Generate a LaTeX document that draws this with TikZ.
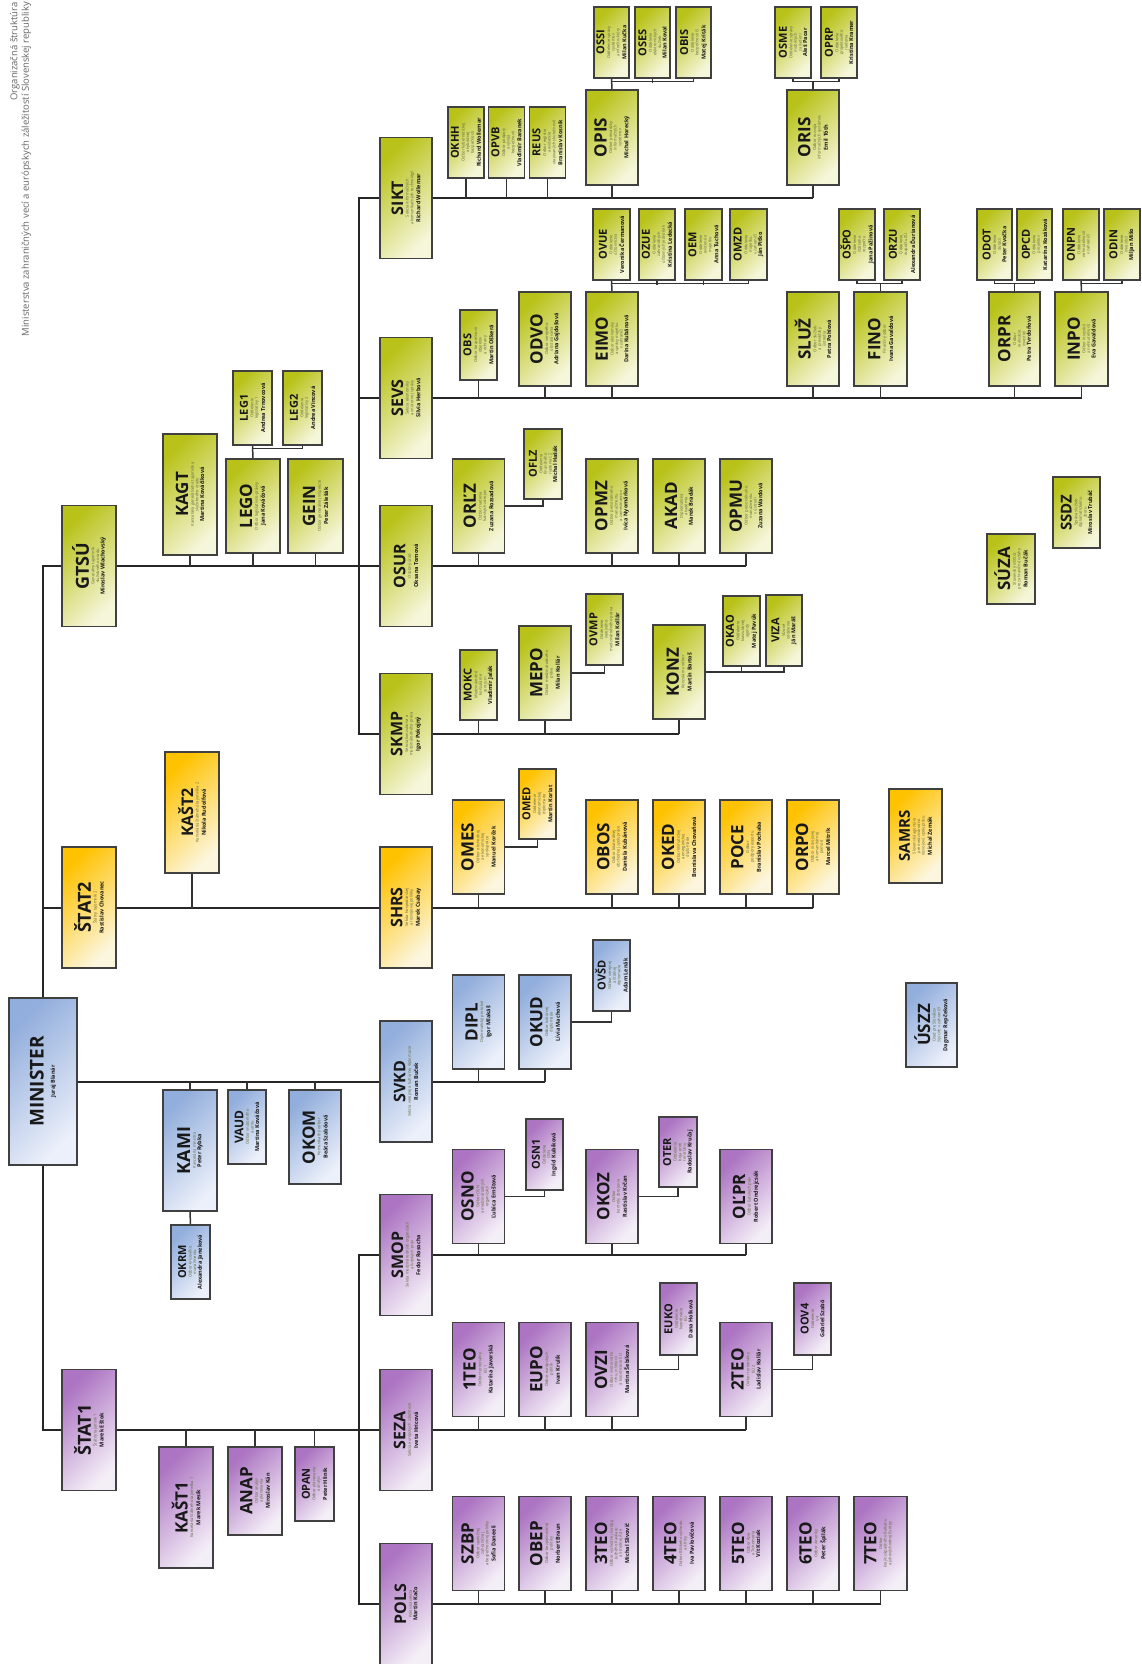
\documentclass[tikz,border=0pt]{standalone}
\usepackage{fontspec}
\setmainfont{Open Sans}
\usetikzlibrary{backgrounds,calc,positioning}

\definecolor{grnA}{RGB}{184,194,24}
\definecolor{grnB}{RGB}{246,246,218}
\definecolor{ylwA}{RGB}{255,194,0}
\definecolor{ylwB}{RGB}{252,246,222}
\definecolor{bluA}{RGB}{146,174,220}
\definecolor{bluB}{RGB}{236,240,250}
\definecolor{purA}{RGB}{172,116,194}
\definecolor{purB}{RGB}{244,238,247}
\definecolor{dsc}{RGB}{96,104,60}

\newcommand{\ttl}[2]{{\fontsize{#1}{#1}\selectfont\bfseries\color{black!90}#2}}
\newcommand{\nme}[1]{{\fontsize{5.5}{6.5}\selectfont\bfseries\color{black!90}#1}}

\tikzset{
  box/.style={
    shape = rectangle,
    draw = black!75,
    line width = 1.4pt,
    inner sep = 0pt
  },
  grn/.style={box, top color=grnA, bottom color=grnB, shading angle=45},
  ylw/.style={box, top color=ylwA, bottom color=ylwB, shading angle=45},
  blu/.style={box, top color=bluA, bottom color=bluB, shading angle=45},
  pur/.style={box, top color=purA, bottom color=purB, shading angle=45},
  lcol/.style={minimum width=54pt, minimum height=121pt},
  sec/.style={minimum width=52pt, minimum height=121pt},
  ofc/.style={minimum width=52pt, minimum height=94pt},
  sml/.style={minimum width=37pt, minimum height=71pt},
  lbl/.style={
    rotate = 90,
    anchor = center,
    align = center,
    inner sep = 0pt,
    font = \fontsize{4}{4.6}\selectfont,
    text = dsc
  },
  org/.style n args={4}{label={[lbl]center:{\ttl{#1}{#2}\\[1pt]#3\\[1pt]\nme{#4}}}},
  conn/.style={line width=2pt, black!85},
  subconn/.style={line width=1.5pt, black!80}
}

\begin{document}
\begin{tikzpicture}[x=1pt,y=-1pt]
  \useasboundingbox (0,0) rectangle (1141,1664);

  \node[rotate=90, anchor=north east, align=right, inner sep=0pt,
        font=\fontsize{9.5}{11.5}\selectfont, text=black!60] (title) at (10,2)
        {Organizačná štruktúra\\Ministerstva zahraničných vecí a európskych záležitostí Slovenskej republiky};

  % vedenie
  \node[blu, minimum width=68pt, minimum height=167pt, org={19}{MINISTER}{}{Juraj Blanár}] (MINISTER) at (43,1081.5) {};
  \node[grn, lcol, org={18}{GTSÚ}{Generálny tajomník\\služobného úradu}{Miroslav Wlachovský}] (GTSU) at (89,566) {};
  \node[ylw, lcol, org={18}{ŠTAT2}{Štátny tajomník 2}{Rastislav Chovanec}] (STAT2) at (89,907.5) {};
  \node[pur, lcol, org={18}{ŠTAT1}{Štátny tajomník 1}{Marek Eštok}] (STAT1) at (89,1430) {};

  \node[grn, lcol, org={17}{KAGT}{Kancelária generálneho tajomníka\\služobného úradu}{Martina Kováčiková}] (KAGT) at (190,494.5) {};
  \node[grn, ofc, minimum width=54pt, org={17}{LEGO}{Odbor legislatívno-právny}{Jana Kováčová}] (LEGO) at (253,506) {};
  \node[grn, ofc, minimum width=55pt, org={17}{GEIN}{Odbor generálnej inšpekcie}{Peter Zálešák}] (GEIN) at (315.5,506) {};
  \node[grn, sml, minimum width=39pt, minimum height=74pt, org={11}{LEG1}{Oddelenie\\legislatívy 1}{Andrea Trnovcová}] (LEG1) at (252.5,408) {};
  \node[grn, sml, minimum width=39pt, minimum height=74pt, org={11}{LEG2}{Oddelenie\\legislatívy 2}{Andrea Vincová}] (LEG2) at (302.5,408) {};
  \node[ylw, lcol, org={16}{KAŠT2}{Kancelária štátneho tajomníka 2}{Nikola Rudolfová}] (KAST2) at (192,812.5) {};
  \node[blu, lcol, org={18}{KAMI}{Kancelária ministra}{Peter Rybka}] (KAMI) at (190,1150.5) {};
  \node[blu, sml, minimum width=38pt, minimum height=74pt, org={12}{VAUD}{Odbor vnútorného\\auditu}{Martina Kováčová}] (VAUD) at (247,1127) {};
  \node[blu, ofc, org={17}{OKOM}{Komunikačný odbor}{Beáta Szabóová}] (OKOM) at (315,1137) {};
  \node[blu, sml, minimum width=39pt, minimum height=74pt, org={11}{OKRM}{Odbor krízového\\manažmentu}{Alexandra Janeková}] (OKRM) at (190.5,1262) {};
  \node[pur, lcol, org={17}{KAŠT1}{Kancelária štátneho tajomníka 1}{Marek Mesík}] (KAST1) at (186,1507.5) {};
  \node[pur, ofc, minimum width=54pt, minimum height=88pt, org={17}{ANAP}{Odbor analýz\\a plánovania}{Miroslav Kán}] (ANAP) at (255,1491) {};
  \node[pur, sml, minimum width=39pt, minimum height=74pt, org={11}{OPAN}{Odbor plánovania\\a analýz}{Peter Hlinik}] (OPAN) at (314.5,1484) {};

  % sekcie
  \node[grn, sec, org={16}{SIKT}{Sekcia informačných\\a komunikačných technológií}{Richard Wollemar}] (SIKT) at (406,198) {};
  \node[grn, sec, org={16}{SEVS}{Sekcia ekonomiky\\a vnútornej správy}{Silvia Herbová}] (SEVS) at (406,398) {};
  \node[grn, sec, org={16}{OSUR}{Osobný úrad}{Oksana Tomová}] (OSUR) at (406,566) {};
  \node[grn, sec, org={16}{SKMP}{Sekcia konzulárna a\\medzinárodného práva}{Igor Pokojný}] (SKMP) at (406,734) {};
  \node[ylw, sec, org={16}{SHRS}{Sekcia hospodárskej\\a rozvojovej politiky}{Marek Csabay}] (SHRS) at (406,907.5) {};
  \node[blu, sec, org={16}{SVKD}{Sekcia verejnej a kultúrnej diplomacie}{Roman Buček}] (SVKD) at (406,1081.5) {};
  \node[pur, sec, org={16}{SMOP}{Sekcia medzinárodných organizácií\\a ľudských práv}{Fedor Rosocha}] (SMOP) at (406,1255) {};
  \node[pur, sec, org={16}{SEZA}{Sekcia európskych záležitostí}{Iveta Hricová}] (SEZA) at (406,1430) {};
  \node[pur, sec, org={16}{POLS}{Politická sekcia}{Martin Kačo}] (POLS) at (406,1604) {};

  % SIKT
  \node[grn, sml, minimum width=36pt, org={11}{OKHH}{Odbor kybernetickej\\a hybridnej\\bezpečnosti}{Richard Wollemar}] (OKHH) at (466,142.5) {};
  \node[grn, sml, minimum width=36pt, org={11}{OPVB}{Odbor podpory\\a vývoja\\bezpečnosti}{Vladimír Baranek}] (OPVB) at (506.5,142.5) {};
  \node[grn, sml, minimum width=36pt, org={11}{REUS}{Odbor registra\\a evidencie\\utajovaných skutočností}{Branislav Kosnik}] (REUS) at (547.5,142.5) {};
  \node[grn, ofc, minimum height=95pt, org={17}{OPIS}{Odbor prevádzky\\informačných\\systémov}{Michal Horecký}] (OPIS) at (612,137.5) {};
  \node[grn, sml, minimum width=35pt, org={11}{OSSI}{Oddelenie správy\\systémov\\a infraštruktúry}{Milan Kučka}] (OSSI) at (611.5,42.5) {};
  \node[grn, sml, minimum width=35pt, org={11}{OSES}{Oddelenie\\elektronických\\služieb}{Milan Koval}] (OSES) at (652.5,42.5) {};
  \node[grn, sml, minimum width=35pt, org={11}{OBIS}{Oddelenie\\bezpečnosti IS}{Matej Kriták}] (OBIS) at (693.5,42.5) {};
  \node[grn, ofc, minimum height=95pt, org={17}{ORIS}{Odbor rozvoja\\informačných systémov}{Emil Tóth}] (ORIS) at (813,137.5) {};
  \node[grn, sml, minimum width=36pt, org={11}{OSME}{Oddelenie správy\\mobilných\\zariadení}{Aleš Pacar}] (OSME) at (793,42.5) {};
  \node[grn, sml, minimum width=36pt, org={11}{OPRP}{Oddelenie\\projektového\\riadenia}{Kristína Kramer}] (OPRP) at (839,42.5) {};

  % SEVS
  \node[grn, sml, minimum height=70pt, org={11}{OBS}{Odbor bezpečnosti\\objektov\\a ochrany}{Martin Oškerá}] (OBS) at (478.5,345) {};
  \node[grn, ofc, org={17}{ODVO}{Odbor verejného\\obstarávania}{Adriana Gajdošová}] (ODVO) at (545,339) {};
  \node[grn, ofc, org={17}{EIMO}{Odbor ekonomiky\\a správy majetku\\v zahraničí}{Darina Kubánová}] (EIMO) at (612,339) {};
  \node[grn, sml, org={11}{OVUE}{Oddelenie\\účtovníctva}{Veronika Čermanová}] (OVUE) at (611.5,244.5) {};
  \node[grn, sml, minimum width=36pt, org={11}{OZUE}{Oddelenie\\zahraničných\\účtovných jednotiek}{Kristína Ledecká}] (OZUE) at (657,244.5) {};
  \node[grn, sml, org={11}{OEM}{Oddelenie\\evidencie\\majetku}{Anna Tuchová}] (OEM) at (703.5,244.5) {};
  \node[grn, sml, org={11}{OMZD}{Oddelenie\\majetku\\v zahraničí}{Ján Piťko}] (OMZD) at (748.5,244.5) {};
  \node[grn, ofc, org={17}{SLUŽ}{Odbor služieb\\a prevádzky\\ústredia}{Petra Pohlová}] (SLUZ) at (813,339) {};
  \node[grn, ofc, minimum width=53pt, org={17}{FINO}{Finančný odbor}{Ivana Gavaldová}] (FINO) at (880.5,339) {};
  \node[grn, sml, minimum width=36pt, org={11}{OŠPO}{Oddelenie\\štátneho\\rozpočtu}{Jana Pažinová}] (OSPO) at (857,244.5) {};
  \node[grn, sml, minimum width=36pt, org={11}{ORZU}{Oddelenie\\rozpočtu ZÚ}{Alexandra Ďurianová}] (ORZU) at (902,244.5) {};
  \node[grn, ofc, minimum width=51pt, org={17}{ORPR}{Odbor\\realizácie\\investícií}{Petra Tvrdoňová}] (ORPR) at (1014.5,339) {};
  \node[grn, ofc, minimum width=53pt, org={17}{INPO}{Odbor investícií\\a nehnuteľností}{Eva Gavaldová}] (INPO) at (1081.5,339) {};
  \node[grn, sml, minimum width=35pt, org={11}{ODOT}{Oddelenie\\dotácií}{Peter Kvočka}] (ODOT) at (994.5,244.5) {};
  \node[grn, sml, minimum width=35pt, org={11}{OPCD}{Oddelenie\\projektov}{Katarína Kozáková}] (OPCD) at (1034.5,244.5) {};
  \node[grn, sml, minimum width=36pt, org={11}{ONPN}{Oddelenie\\nehnuteľností\\v zahraničí}{}] (ONPN) at (1081,244.5) {};
  \node[grn, sml, minimum width=36pt, org={11}{ODIN}{Oddelenie\\investícií}{Miljan Mišo}] (ODIN) at (1122,244.5) {};

  % OSUR
  \node[grn, ofc, org={17}{ORĽZ}{Odbor riadenia\\ľudských zdrojov}{Zuzana Rozsadová}] (ORLZ) at (478.5,506) {};
  \node[grn, sml, minimum width=38pt, minimum height=70pt, org={11}{OFLZ}{Oddelenie\\finančného\\riadenia ĽZ}{Michal Hašák}] (OFLZ) at (543,464) {};
  \node[grn, ofc, org={17}{OPMZ}{Odbor personálneho\\manažmentu\\a zamestnancov}{Ivica Nyomárková}] (OPMZ) at (612,506) {};
  \node[grn, ofc, org={17}{AKAD}{Diplomatická\\akadémia}{Marek Bradák}] (AKAD) at (679,506) {};
  \node[grn, ofc, org={17}{OPMU}{Odbor personálneho\\manažmentu\\v ústredí}{Zuzana Wardová}] (OPMU) at (746,506) {};

  % SKMP
  \node[grn, sml, minimum height=70pt, org={11}{MOKC}{Medzinárodné\\konzulárne\\centrum}{Vladimír Jalák}] (MOKC) at (478.5,685) {};
  \node[grn, ofc, org={17}{MEPO}{Odbor medzinárodného\\práva}{Milan Kollár}] (MEPO) at (545,673) {};
  \node[grn, sml, org={11}{OVMP}{Oddelenie\\verejného\\medzinárodného práva}{Milan Kollár}] (OVMP) at (604.5,629.5) {};
  \node[grn, ofc, org={17}{KONZ}{Konzulárny odbor}{Martin Bartoš}] (KONZ) at (679,672) {};
  \node[grn, sml, minimum height=70pt, org={11}{OKAO}{Oddelenie\\konzulárnej\\agendy}{Matej Pavúk}] (OKAO) at (741.5,631) {};
  \node[grn, sml, minimum width=36pt, org={11}{VIZA}{Vízové\\oddelenie}{Ján Maráš}] (VIZA) at (784,630.5) {};
  \node[grn, minimum width=48pt, minimum height=70pt, org={17}{SÚZA}{Slovenský inštitút\\pre zahraničné vzťahy}{Roman Bučák}] (SUZA) at (1011,569) {};
  \node[grn, minimum width=47pt, minimum height=71pt, org={15}{SSDZ}{Správa služieb\\diplomatickému\\zboru}{Miroslav Trubáč}] (SSDZ) at (1076.5,512.5) {};

  % SHRS
  \node[ylw, ofc, org={17}{OMES}{Odbor obchodnej\\a ekonomickej\\spolupráce}{Manuel Korček}] (OMES) at (478.5,847) {};
  \node[ylw, sml, minimum height=70pt, org={11}{OMED}{Oddelenie\\ekonomickej\\diplomacie}{Martin Koriat}] (OMED) at (537.5,804) {};
  \node[ylw, ofc, org={17}{OBOS}{Odbor bilaterálnej\\obchodnej spolupráce}{Daniela Kubánová}] (OBOS) at (612,847) {};
  \node[ylw, ofc, org={17}{OKED}{Odbor klimatickej\\a energetickej\\diplomacie}{Bronislava Chovaňová}] (OKED) at (679,847) {};
  \node[ylw, ofc, org={17}{POCE}{Odbor\\podpory exportu}{Branislav Pochaba}] (POCE) at (746,847) {};
  \node[ylw, ofc, org={17}{ORPO}{Odbor rozvojovej\\a humanitárnej\\pomoci}{Marcel Mitrík}] (ORPO) at (813,847) {};
  \node[ylw, ofc, minimum width=53pt, org={15}{SAMRS}{Slovenská agentúra\\pre medzinárodnú\\rozvojovú spoluprácu}{Michal Zemák}] (SAMRS) at (915.5,836) {};

  % SVKD
  \node[blu, ofc, org={17}{DIPL}{Diplomatický protokol}{Igor Mlakáš}] (DIPL) at (478.5,1022) {};
  \node[blu, ofc, org={17}{OKUD}{Odbor kultúrnej\\diplomacie}{Lívia Machová}] (OKUD) at (545,1022) {};
  \node[blu, sml, org={11}{OVŠD}{Odbor verejnej\\a štátnej\\diplomacie}{Adam Lenák}] (OVSD) at (611.5,975.5) {};
  \node[blu, minimum width=51pt, minimum height=84pt, org={17}{ÚSZZ}{Úrad pre Slovákov\\žijúcich v zahraničí}{Dagmar Repčeková}] (USZZ) at (931.5,1025) {};

  % SMOP
  \node[pur, ofc, org={17}{OSNO}{Odbor OSN\\a medzinárodných\\organizácií}{Ľubica Ernštová}] (OSNO) at (478.5,1196.5) {};
  \node[pur, sml, org={11}{OSN1}{Oddelenie\\OSN}{Ingrid Kubíková}] (OSN1) at (544.5,1154.5) {};
  \node[pur, ofc, org={17}{OKOZ}{Odbor\\kontroly zbrojenia}{Rastislav Krčan}] (OKOZ) at (612,1196.5) {};
  \node[pur, sml, minimum width=38pt, minimum height=70pt, org={11}{OTER}{Oddelenie\\boja proti\\terorizmu}{Radoslav Kručaj}] (OTER) at (678,1152) {};
  \node[pur, ofc, org={17}{OĽPR}{Odbor ľudských práv}{Robert Ondrejcsák}] (OLPR) at (746,1196.5) {};

  % SEZA
  \node[pur, ofc, org={17}{1TEO}{Odbor teritoriálny\\EÚ 1}{Katarína Javorská}] (TEO1) at (478.5,1369.5) {};
  \node[pur, ofc, org={17}{EUPO}{Odbor európskych\\politík}{Ivan Krulík}] (EUPO) at (545,1369.5) {};
  \node[pur, ofc, org={17}{OVZI}{Odbor vnútorného\\trhu, inštitúcií\\a koordinácie EÚ}{Martina Šebíková}] (OVZI) at (612,1369.5) {};
  \node[pur, sml, minimum height=72pt, org={11}{EUKO}{Oddelenie\\koordinácie\\EÚ}{Dana Holková}] (EUKO) at (678.5,1319) {};
  \node[pur, ofc, org={17}{2TEO}{Odbor teritoriálny\\EÚ 2}{Ladislav Kollár}] (TEO2) at (746,1369.5) {};
  \node[pur, sml, minimum height=72pt, org={11}{OOV4}{Oddelenie\\V4}{Gabriel Szabó}] (OOV4) at (812.5,1319) {};

  % POLS
  \node[pur, ofc, org={17}{SZBP}{Odbor spoločnej\\zahraničnej\\a bezpečnostnej politiky}{Sofia Daneeli}] (SZBP) at (478.5,1543.5) {};
  \node[pur, ofc, org={17}{OBEP}{Odbor bezpečnostnej\\politiky}{Norbert Braun}] (OBEP) at (545,1543.5) {};
  \node[pur, ofc, org={17}{3TEO}{Odbor východnej Európy,\\Južného Kaukazu\\a Strednej Ázie}{Michal Slivovič}] (TEO3) at (612,1543.5) {};
  \node[pur, ofc, org={17}{4TEO}{Odbor Blízkeho východu\\a Afriky}{Iva Pavlovičová}] (TEO4) at (679,1543.5) {};
  \node[pur, ofc, org={17}{5TEO}{Odbor Ázie\\a Tichomoria}{Vít Koziak}] (TEO5) at (746,1543.5) {};
  \node[pur, ofc, org={17}{6TEO}{Odbor Ameriky}{Peter Špilák}] (TEO6) at (813,1543.5) {};
  \node[pur, ofc, minimum width=53pt, org={17}{7TEO}{Odbor\\krajín západného Balkánu\\a juhovýchodnej Európy}{}] (TEO7) at (880.5,1543.5) {};

  \begin{scope}[on background layer]
    \fill[white] (0,0) rectangle (1141,1664);
    % hlavne vedenie
    \draw[conn] (GTSU.west) -| (MINISTER.center) |- (STAT1.west);
    \draw[conn] (STAT2.west) -- (STAT2.west -| MINISTER.center);
    \draw[conn] (MINISTER.east) -- (SVKD.west);
    \draw[conn] (GTSU.east) -- (OSUR.west);
    \draw[conn] (STAT2.east) -- (SHRS.west);
    \draw[conn] (STAT1.east) -- (SEZA.west);
    \draw[conn] (SIKT.west) -- ++(-20,0) |- (SKMP.west);
    \draw[conn] (SEVS.west) -- ++(-20,0);
    \draw[conn] (SMOP.west) -- ++(-20,0) |- (POLS.west);
    % pri vedeni
    \foreach \u in {KAGT,LEGO,GEIN}
      \draw[subconn] (\u.south) -- (\u.south |- GTSU.east);
    \draw[subconn] (LEGO.north) -- (LEG1.south);
    \draw[subconn] (LEGO.north) ++(0,-10) -| (LEG2.south);
    \draw[subconn] (KAST2.south) -- (KAST2.south |- STAT2.east);
    \foreach \u in {KAMI,VAUD,OKOM}
      \draw[subconn] (\u.north) -- (\u.north |- MINISTER.east);
    \draw[subconn] (KAMI.south) -- (OKRM.north);
    \foreach \u in {KAST1,ANAP,OPAN}
      \draw[subconn] (\u.north) -- (\u.north |- STAT1.east);
    % SIKT
    \draw[conn] (SIKT.east) -- (ORIS.south |- SIKT.east);
    \foreach \u in {OKHH,OPVB,REUS,OPIS,ORIS}
      \draw[subconn] (\u.south) -- (\u.south |- SIKT.east);
    \draw[subconn] (OPIS.north) -- (OSSI.south);
    \draw[subconn] (OPIS.north) ++(0,-8) -| (OBIS.south);
    \draw[subconn] (OSES.south) -- ++(0,4);
    \draw[subconn] (ORIS.north) -- ++(0,-8) coordinate (orisbus);
    \draw[subconn] (OSME.south) |- (orisbus) -| (OPRP.south);
    % SEVS
    \draw[conn] (SEVS.east) -- (INPO.south |- SEVS.east);
    \foreach \u in {OBS,ODVO,EIMO,SLUZ,FINO,ORPR,INPO}
      \draw[subconn] (\u.south) -- (\u.south |- SEVS.east);
    \draw[subconn] (EIMO.north) -- (OVUE.south);
    \draw[subconn] (EIMO.north) ++(0,-8) -| (OMZD.south);
    \draw[subconn] (OZUE.south) -- ++(0,4);
    \draw[subconn] (OEM.south) -- ++(0,4);
    \draw[subconn] (FINO.north) -- ++(0,-8) coordinate (finobus);
    \draw[subconn] (OSPO.south) |- (finobus) -| (ORZU.south);
    \draw[subconn] (ORPR.north) -- ++(0,-8) coordinate (orprbus);
    \draw[subconn] (ODOT.south) |- (orprbus) -| (OPCD.south);
    \draw[subconn] (INPO.north) -- (ONPN.south);
    \draw[subconn] (INPO.north) ++(0,-8) -| (ODIN.south);
    % OSUR
    \draw[conn] (OSUR.east) -- (OPMU.south |- OSUR.east);
    \foreach \u in {ORLZ,OPMZ,AKAD,OPMU}
      \draw[subconn] (\u.south) -- (\u.south |- OSUR.east);
    \draw[subconn] (ORLZ.east) -| (OFLZ.south);
    % SKMP
    \draw[conn] (SKMP.east) -- (KONZ.south |- SKMP.east);
    \foreach \u in {MOKC,MEPO,KONZ}
      \draw[subconn] (\u.south) -- (\u.south |- SKMP.east);
    \draw[subconn] (MEPO.east) -| (OVMP.south);
    \draw[subconn] (KONZ.east) -| (VIZA.south);
    \draw[subconn] (OKAO.south) -- (OKAO.south |- KONZ.east);
    % SHRS
    \draw[conn] (SHRS.east) -- (ORPO.south |- SHRS.east);
    \foreach \u in {OMES,OBOS,OKED,POCE,ORPO}
      \draw[subconn] (\u.south) -- (\u.south |- SHRS.east);
    \draw[subconn] (OMES.east) -| (OMED.south);
    % SVKD
    \draw[conn] (SVKD.east) -- (OKUD.south |- SVKD.east);
    \foreach \u in {DIPL,OKUD}
      \draw[subconn] (\u.south) -- (\u.south |- SVKD.east);
    \draw[subconn] (OKUD.east) -| (OVSD.south);
    % SMOP
    \draw[conn] (SMOP.east) -- (OLPR.south |- SMOP.east);
    \foreach \u in {OSNO,OKOZ,OLPR}
      \draw[subconn] (\u.south) -- (\u.south |- SMOP.east);
    \draw[subconn] (OSNO.east) -| (OSN1.south);
    \draw[subconn] (OKOZ.east) -| (OTER.south);
    % SEZA
    \draw[conn] (SEZA.east) -- (TEO2.south |- SEZA.east);
    \foreach \u in {TEO1,EUPO,OVZI,TEO2}
      \draw[subconn] (\u.south) -- (\u.south |- SEZA.east);
    \draw[subconn] (OVZI.east) -| (EUKO.south);
    \draw[subconn] (TEO2.east) -| (OOV4.south);
    % POLS
    \draw[conn] (POLS.east) -- (TEO7.south |- POLS.east);
    \foreach \u in {SZBP,OBEP,TEO3,TEO4,TEO5,TEO6,TEO7}
      \draw[subconn] (\u.south) -- (\u.south |- POLS.east);
  \end{scope}
\end{tikzpicture}
\end{document}
